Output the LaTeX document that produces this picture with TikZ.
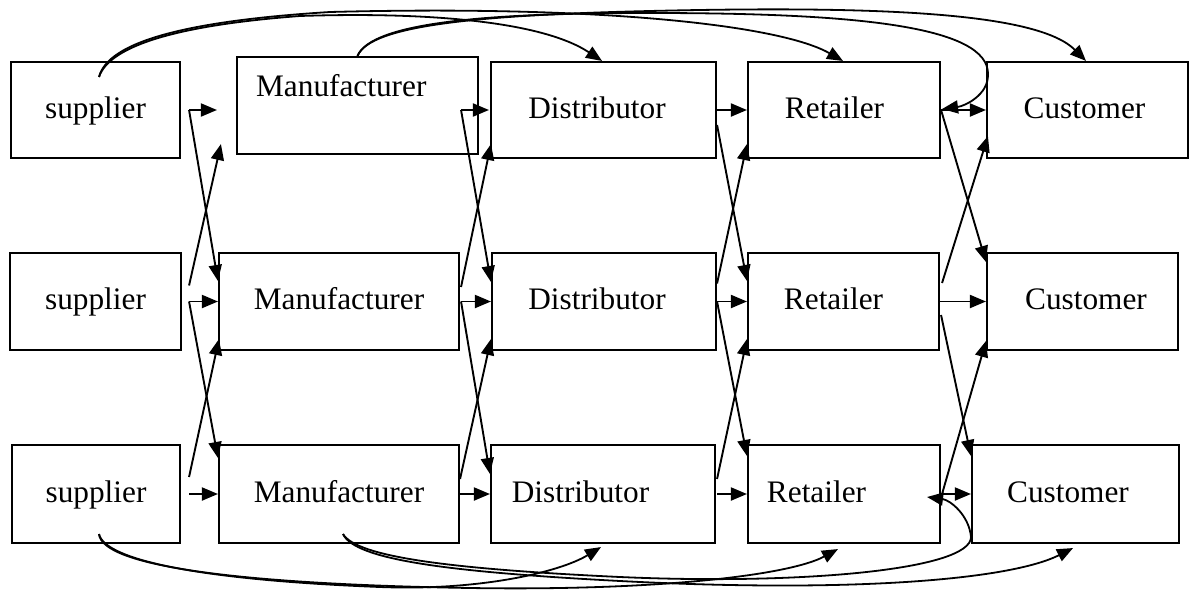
\documentclass[tikz,border=0pt]{standalone}
\usepackage{fontspec}
\setmainfont{Liberation Serif}
\usetikzlibrary{arrows.meta,calc}
\begin{document}
\begin{tikzpicture}[x=1pt,y=-1pt,
  txt/.style={font=\fontsize{31.3}{36}\selectfont},
  box/.style={draw,line width=2.1pt,rectangle,inner sep=0pt,text height=22pt,text depth=6pt,txt},
  lbl/.style={inner sep=0pt,txt},
  arr/.style={line width=1.9pt,-{Triangle[length=16pt,width=13pt]}},
  crv/.style={line width=1.8pt,-{Triangle[length=16pt,width=13pt]}},
]
\useasboundingbox (0,0) rectangle (1196,589);
% row 1
\node[box,minimum width=169pt,minimum height=96pt] (S1) at (95.5,110) {supplier};
\node[box,minimum width=241pt,minimum height=97pt] (M1) at (357.5,105.5) {};
\node[lbl,anchor=base west] (M1t) at ($(M1.north west)+(20,41)$) {Manufacturer};
\node[box,minimum width=225pt,minimum height=96pt] (D1) at (603.5,110) {Distributor\kern13pt};
\node[box,minimum width=192pt,minimum height=96pt] (R1) at (844,110) {Retailer\kern19pt};
\node[box,minimum width=201pt,minimum height=96pt] (C1) at (1087.5,110) {Customer\kern6pt};
% row 2
\node[box,minimum width=171pt,minimum height=97pt] (S2) at (95.5,301.5) {supplier};
\node[box,minimum width=240pt,minimum height=97pt] (M2) at (339,301.5) {Manufacturer};
\node[box,minimum width=224pt,minimum height=97pt] (D2) at (604,301.5) {Distributor\kern14pt};
\node[box,minimum width=191pt,minimum height=97pt] (R2) at (843.5,301.5) {Retailer\kern20pt};
\node[box,minimum width=191pt,minimum height=97pt] (C2) at (1082.5,301.5) {\kern7pt Customer};
% row 3
\node[box,minimum width=168pt,minimum height=98pt] (S3) at (96,494) {supplier};
\node[box,minimum width=240pt,minimum height=98pt] (M3) at (339,494) {Manufacturer};
\node[box,minimum width=224pt,minimum height=98pt] (D3) at (603,494) {Distributor\kern45pt};
\node[box,minimum width=192pt,minimum height=98pt] (R3) at (844,494) {Retailer\kern55pt};
\node[box,minimum width=207pt,minimum height=98pt] (C3) at (1075.5,494) {Customer\kern15pt};

% gap supplier -> manufacturer
\draw[arr] ($(S1.east)+(8,0)$) -- ($(M2.west|-S1.east)+(-1,0)$);
\draw[arr] ($(S1.east)+(8,0)$) -- ($(M2.north west)+(0,29)$);
\draw[arr] ($(S2.east)+(7,-16)$) -- ($(M2.west|-M1.south west)+(3,-11)$);
\draw[arr] ($(S2.east)+(7,0)$) -- (M2.west);
\draw[arr] ($(S2.east)+(7,0)$) -- ($(M3.north west)+(0,14)$);
\draw[arr] ($(S3.east)+(8,-17)$) -- ($(M2.south west)+(1,-12)$);
\draw[arr] ($(S3.east)+(8,0)$) -- (M3.west);

% gap manufacturer -> distributor
\draw[arr] ($(M2.east|-M1.east)+(1,4.5)$) -- ($(D1.west)+(-1,0)$);
\draw[arr] ($(M2.east|-M1.east)+(1,4.5)$) -- ($(D2.north west)+(0,30)$);
\draw[arr] ($(M2.east)+(1,-14.5)$) -- ($(D1.south west)+(1,-15)$);
\draw[arr] ($(M2.east)+(1,0)$) -- (D2.west);
\draw[arr] ($(M2.east)+(1,0)$) -- ($(D3.north west)+(0,30)$);
\draw[arr] ($(M3.east)+(0,-15)$) -- ($(D2.south west)+(0,-12)$);
\draw[arr] (M3.east) -- (D3.west);

% gap distributor -> retailer
\draw[arr] (D1.east) -- (R1.west);
\draw[arr] ($(D1.east)+(0,15)$) -- ($(R2.north west)+(0,29)$);
\draw[arr] ($(D2.east)+(0,-18)$) -- ($(R1.south west)+(0,-15)$);
\draw[arr] (D2.east) -- (R2.west);
\draw[arr] (D2.east) -- ($(R3.north west)+(0,12)$);
\draw[arr] ($(D3.east)+(1,-15)$) -- ($(R2.south west)+(0,-12)$);
\draw[arr] ($(D3.east)+(1,0)$) -- (R3.west);

% gap retailer -> customer
\draw[arr] (R1.east) -- (C1.west);
\draw[arr] (R1.east) -- ($(C2.north west)+(0,10)$);
\draw[arr] ($(R2.east)+(2,-18.5)$) -- ($(C1.south west)+(2,-23)$);
\draw[arr] (R2.east) -- (C2.west);
\draw[arr] ($(R2.east)+(1,13.5)$) -- ($(C3.north west)+(0,12)$);
\draw[arr] ($(R3.east)+(1,0)$) -- ($(C2.south west)+(0,-10)$);
\draw[arr] (R3.east) -- (C3.west);

% top curves
\draw[crv] ($(S1.north)+(3.5,16)$) .. controls (110,45) and (180,25) .. (300,16)
  .. controls (420,12) and (540,20) .. ($(D1.north)+(-1.5,0)$);
\draw[crv] ($(S1.north)+(3.5,16)$) .. controls (108,42) and (185,21) .. (330,12)
  .. controls (600,5) and (780,25) .. ($(R1.north)+(-1,0)$);
\draw[crv] (M1.north) .. controls (370,25) and (480,15) .. (650,11)
  .. controls (900,5) and (1040,15) .. ($(C1.north)+(-1.5,0)$);
\draw[crv] (M1.north) .. controls (372,22) and (490,13) .. (650,13)
  .. controls (850,13) and (990,25) .. (988,75)
  .. controls (988,95) and (965,106) .. ($(R1.east)+(1,-1)$);

% bottom curves
\draw[crv] ($(S3.south)+(3,-10)$) .. controls (105,560) and (200,580) .. (380,587)
  .. controls (480,591) and (560,572) .. ($(D3.south)+(-2,3)$);
\draw[crv] ($(S3.south)+(3,-10)$) .. controls (102,565) and (230,584) .. (470,588)
  .. controls (660,591) and (790,575) .. ($(R3.south)+(-6,5)$);
\draw[crv] ($(M3.south)+(4,-10)$) .. controls (355,560) and (450,572) .. (620,581)
  .. controls (850,593) and (1010,580) .. ($(C3.south)+(-2.5,4)$);
\draw[crv] ($(M3.south)+(4,-10)$) .. controls (357,557) and (450,569) .. (620,577)
  .. controls (800,585) and (971,570) .. (971,537)
  .. controls (969,515) and (950,500) .. ($(R3.east)+(-14,3)$);
\end{tikzpicture}
\end{document}
